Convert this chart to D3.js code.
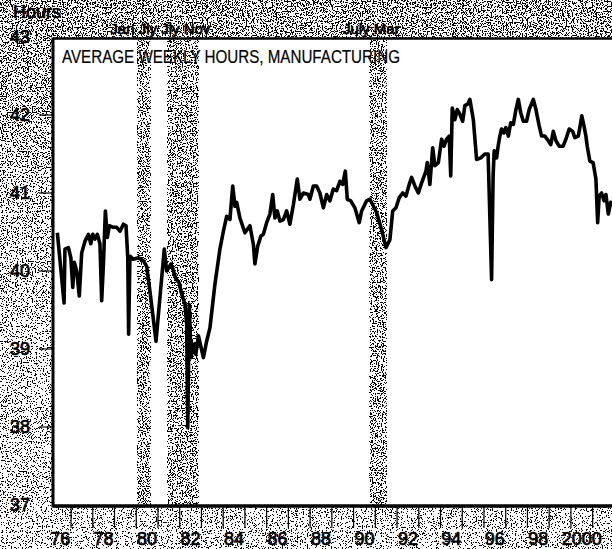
<!DOCTYPE html>
<html>
<head>
<meta charset="utf-8">
<script src="https://d3js.org/d3.v7.min.js"></script>
<style>
  body { margin: 0; background: #fff; }
  svg text { font-family: "Liberation Sans", Arial, Helvetica, sans-serif; fill: #000; stroke: #000; stroke-width: 0.7px; }
</style>
</head>
<body>
<div id="viz"></div>
<script>
// monthly-ish readings, decimal years
var dates = [1976.37,1976.68,1976.72,1976.88,1976.99,1977.08,1977.15,1977.26,1977.38,1977.49,1977.64,1977.80,1977.91,1978.00,1978.10,1978.21,1978.33,1978.41,1978.49,1978.58,1978.67,1978.76,1978.95,1979.10,1979.25,1979.41,1979.53,1979.61,1979.65,1979.71,1979.87,
  1980.10,1980.33,1980.48,1980.63,1980.91,1981.29,1981.40,1981.60,1981.71,1981.82,1981.97,1982.09,1982.24,1982.32,1982.37,1982.44,1982.52,1982.63,1982.74,1982.86,1983.09,1983.24,1983.39,1983.62,1983.85,
  1984.01,1984.16,1984.31,1984.44,1984.54,1984.62,1984.77,1985.00,1985.23,1985.39,1985.46,1985.59,1985.74,1985.85,1986.00,1986.15,1986.28,1986.38,1986.49,1986.61,1986.77,1986.92,1987.07,1987.23,1987.41,1987.53,1987.69,1987.92,1987.99,
  1988.15,1988.30,1988.45,1988.61,1988.76,1988.91,1989.07,1989.22,1989.37,1989.50,1989.62,1989.71,1989.87,1990.06,1990.26,1990.37,1990.60,1990.75,1991.06,1991.29,1991.49,1991.67,1991.80,1991.95,
  1992.10,1992.26,1992.41,1992.56,1992.67,1992.82,1992.98,1993.13,1993.33,1993.39,1993.51,1993.64,1993.74,1993.90,1994.05,1994.16,1994.28,1994.40,1994.47,1994.54,1994.66,1994.77,1994.89,1995.02,1995.12,1995.25,1995.35,1995.51,1995.66,1995.85,
  1996.04,1996.19,1996.35,1996.42,1996.47,1996.58,1996.65,1996.73,1996.81,1996.92,1997.01,1997.12,1997.23,1997.35,1997.47,1997.58,1997.69,1997.81,1997.96,1998.08,1998.27,1998.39,1998.54,1998.65,1998.80,1998.96,
  1999.07,1999.19,1999.31,1999.46,1999.64,1999.77,1999.92,2000.08,2000.18,2000.34,2000.41,2000.50,2000.60,2000.69,2000.75,2000.87,2001.02,2001.15,2001.23,2001.30,2001.41,2001.52,2001.61,2001.72,2001.83,2001.94];
var hours = [40.49,39.59,40.28,40.30,40.17,39.79,40.11,40.00,39.68,40.23,40.38,40.47,40.35,40.47,40.41,40.47,40.35,39.62,40.09,40.77,40.43,40.58,40.56,40.56,40.51,40.60,40.58,40.17,39.19,40.19,40.15,
  40.17,40.13,40.06,39.74,39.10,40.28,40.00,40.09,40.00,39.90,39.85,39.70,39.58,39.32,37.99,39.57,38.89,39.06,38.93,39.17,38.89,39.10,39.27,39.83,40.28,
  40.51,40.70,40.66,41.09,40.83,40.88,40.68,40.49,40.58,40.34,40.09,40.32,40.45,40.47,40.62,40.73,40.98,40.68,40.77,40.64,40.66,40.77,40.60,40.85,41.18,40.92,41.00,40.98,40.92,
  41.09,41.09,41.00,40.81,40.98,40.90,41.05,41.03,41.15,41.11,41.28,40.92,40.90,40.81,40.62,40.77,40.90,40.92,40.75,40.53,40.30,40.40,40.77,40.81,
  40.94,41.00,40.96,41.11,41.20,41.09,41.00,41.13,41.28,41.39,41.11,41.58,41.35,41.39,41.69,41.60,41.69,41.73,41.22,42.09,41.94,42.07,42.01,41.92,42.12,42.14,42.20,41.94,41.43,41.45,
  41.50,41.50,39.89,41.22,41.54,41.45,41.60,41.73,41.82,41.77,41.84,41.73,41.90,41.88,42.07,42.20,42.03,41.92,41.92,42.07,42.20,42.07,41.86,41.73,41.73,41.67,
  41.62,41.79,41.67,41.60,41.60,41.69,41.82,41.79,41.71,41.73,41.84,41.99,41.86,41.73,41.60,41.41,41.39,41.18,40.62,40.96,41.00,40.90,40.98,40.73,40.88,40.85];

// recessions (shaded) and their month labels
var recStart = [1980.05, 1981.45, 1990.75];
var recEnd   = [1980.65, 1982.85, 1991.52];
var recLabels = [["Jan", "Jly", "Jly", "Nov"], ["July", "Mar"]];
var recGroups = [[0, 1], [2, 2]];

var yTicks = [37, 38, 39, 40, 41, 42, 43];
var yearTicks = d3.range(1977, 2002);
var yearLabels = ["76", "78", "80", "82", "84", "86", "88", "90", "92", "94", "96", "98", "2000"];
var labelYears = d3.range(1976, 2001, 2);

var W = 612, H = 549;
var plotL = 53, plotT = 38.5, plotB = 506;

var x = d3.scaleLinear().domain([1976.17, 2001.89]).range([plotL, W]);
var y = d3.scaleLinear().domain([37, 43]).range([505, 37]);

var svg = d3.select("#viz").append("svg")
  .attr("width", W).attr("height", H);

var defs = svg.append("defs");

// stipple: threshold a noise field against the grey level of what is drawn under it
var f = defs.append("filter").attr("id", "stipple")
  .attr("filterUnits", "userSpaceOnUse")
  .attr("x", 0).attr("y", 0).attr("width", W).attr("height", H)
  .attr("color-interpolation-filters", "sRGB");
f.append("feTurbulence").attr("type", "fractalNoise")
  .attr("baseFrequency", 0.8).attr("numOctaves", 2).attr("seed", 4).attr("result", "noise");
f.append("feColorMatrix").attr("in", "noise").attr("type", "matrix")
  .attr("values", "1 0 0 0 0  1 0 0 0 0  1 0 0 0 0  0 0 0 0 1").attr("result", "gn");
var ct = f.append("feComponentTransfer").attr("in", "gn").attr("result", "gs");
["feFuncR", "feFuncG", "feFuncB"].forEach(function(c) {
  ct.append(c).attr("type", "linear").attr("slope", 4).attr("intercept", -1.5);
});
f.append("feComposite").attr("in", "SourceGraphic").attr("in2", "gs")
  .attr("operator", "arithmetic").attr("k1", 0).attr("k2", 1).attr("k3", 1).attr("k4", -0.48)
  .attr("result", "sum");
var th = f.append("feComponentTransfer").attr("in", "sum");
["feFuncR", "feFuncG", "feFuncB"].forEach(function(c) {
  th.append(c).attr("type", "discrete").attr("tableValues", "0 1");
});
th.append("feFuncA").attr("type", "table").attr("tableValues", "1 1");

var grad = defs.append("linearGradient").attr("id", "bgGrad")
  .attr("x1", 0).attr("y1", 0).attr("x2", 0).attr("y2", 1);
[[0, "#a2a2a2"], [0.08, "#aaaaaa"], [0.3, "#c6c6c6"], [0.6, "#e0e0e0"], [1, "#eaeaea"]].forEach(function(s) {
  grad.append("stop").attr("offset", s[0]).attr("stop-color", s[1]);
});

var paper = svg.append("g").attr("filter", "url(#stipple)");

paper.append("rect").attr("width", W).attr("height", H)
  .attr("fill", "url(#bgGrad)");

// plot area
paper.append("rect")
  .attr("x", plotL).attr("y", plotT)
  .attr("width", W - plotL).attr("height", plotB - plotT)
  .attr("fill", "#fff");

paper.append("g").selectAll("rect")
  .data(recStart)
  .join("rect")
  .attr("x", function(d) { return x(d); })
  .attr("y", plotT)
  .attr("width", function(d, i) { return x(recEnd[i]) - x(d); })
  .attr("height", plotB - plotT)
  .attr("fill", "#b0b0b0");

// frame
svg.append("line").attr("x1", plotL).attr("x2", W).attr("y1", plotT).attr("y2", plotT)
  .attr("stroke", "#000").attr("stroke-width", 2.5);
svg.append("line").attr("x1", plotL).attr("x2", W).attr("y1", plotB).attr("y2", plotB)
  .attr("stroke", "#000").attr("stroke-width", 3.5);
svg.append("line").attr("x1", plotL).attr("x2", plotL).attr("y1", plotT - 1).attr("y2", plotB + 1.5)
  .attr("stroke", "#000").attr("stroke-width", 3);

// y ticks
var yg = svg.append("g");
yg.selectAll("line").data(yTicks.slice(1, -1)).join("line")
  .attr("x1", 39).attr("x2", plotL)
  .attr("y1", function(d) { return y(d); }).attr("y2", function(d) { return y(d); })
  .attr("stroke", "#000").attr("stroke-width", 1.2);
yg.selectAll("text").data(yTicks).join("text")
  .attr("x", 30).attr("y", function(d) { return y(d) + 6; })
  .attr("text-anchor", "end").attr("font-size", 18)
  .text(function(d) { return d; });

svg.append("text").attr("x", 13).attr("y", 18).attr("font-size", 18).text("Hours");

// x ticks
var xg = svg.append("g");
xg.selectAll("line").data(yearTicks).join("line")
  .attr("x1", function(d) { return x(d); }).attr("x2", function(d) { return x(d); })
  .attr("y1", plotB).attr("y2", 528)
  .attr("stroke", "#000").attr("stroke-width", 1.2);
xg.selectAll("text").data(labelYears).join("text")
  .attr("x", function(d) { return x(d + 0.5); }).attr("y", 545)
  .attr("text-anchor", "middle").attr("font-size", 18)
  .text(function(d, i) { return yearLabels[i]; });

// recession month labels
svg.append("g").selectAll("text").data(recGroups).join("text")
  .attr("x", function(g) { return x(recStart[g[0]]) - 27; })
  .attr("y", 34)
  .attr("font-size", 15)
  .text(function(g, i) { return recLabels[i].join(" "); });

// title
svg.append("text").attr("x", 62).attr("y", 63)
  .attr("font-size", 18).style("stroke-width", "0.2px")
  .attr("textLength", 338).attr("lengthAdjust", "spacingAndGlyphs")
  .text("AVERAGE WEEKLY HOURS, MANUFACTURING");

// series
svg.append("clipPath").attr("id", "clip").append("rect")
  .attr("x", plotL + 1.5).attr("y", plotT).attr("width", W - plotL).attr("height", plotB - plotT);

var line = d3.line()
  .x(function(d, i) { return x(dates[i]); })
  .y(function(d) { return y(d); });

svg.append("path")
  .datum(hours)
  .attr("d", line)
  .attr("clip-path", "url(#clip)")
  .attr("fill", "none")
  .attr("stroke", "#000")
  .attr("stroke-width", 3.6)
  .attr("stroke-linejoin", "round");
</script>
</body>
</html>
